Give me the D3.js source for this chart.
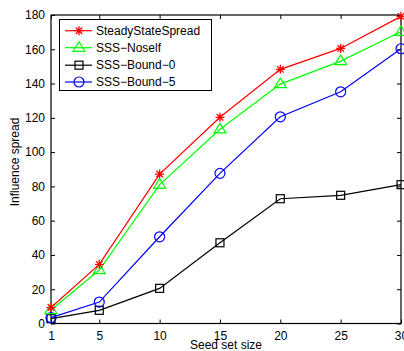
<!DOCTYPE html>
<html><head><meta charset="utf-8">
<script src="https://cdn.jsdelivr.net/npm/d3@7/dist/d3.min.js"></script>
<style>body{margin:0;background:#fff}svg{display:block}text{font-family:"Liberation Sans",Arial,sans-serif}</style>
</head><body>
<svg id="c" width="404" height="351"></svg>
<script>
const seedSizes = [1, 5, 10, 15, 20, 25, 30];
const steadyStateSpread = [9.3, 34.5, 87.2, 120.3, 148.3, 160.5, 179.2];
const sssNoself = [7.9, 31.2, 81, 113.3, 139.7, 153.1, 170.2];
const sssBound0 = [2.8, 7.7, 20.5, 47.1, 72.8, 74.8, 81];
const sssBound5 = [3.4, 12.5, 50.6, 87.6, 120.6, 135.2, 160.3];
const xTicks = [1, 5, 10, 15, 20, 25, 30];
const yTicks = [0, 20, 40, 60, 80, 100, 120, 140, 160, 180];
const seriesNames = ["SteadyStateSpread", "SSS\u2212Noself", "SSS\u2212Bound\u22120", "SSS\u2212Bound\u22125"];

const series = [
  {name: seriesNames[0], values: steadyStateSpread, color: "#ff0000", marker: "star"},
  {name: seriesNames[1], values: sssNoself, color: "#00ff00", marker: "triangle"},
  {name: seriesNames[2], values: sssBound0, color: "#000000", marker: "square"},
  {name: seriesNames[3], values: sssBound5, color: "#0000ff", marker: "circle"}
];

const L = 51, R = 401, T = 15, B = 323.5;
const svg = d3.select("#c");
const x = d3.scaleLinear().domain([1, 30]).range([L, R]);
const y = d3.scaleLinear().domain([0, 180]).range([B, T]);

const fs = 12;
const gx = svg.append("g").attr("transform", `translate(0,${B})`)
  .call(d3.axisBottom(x).tickValues(xTicks).tickSize(-4).tickPadding(8));
const gxt = svg.append("g").attr("transform", `translate(0,${T})`)
  .call(d3.axisTop(x).tickValues(xTicks).tickSize(-4).tickFormat(""));
const gy = svg.append("g").attr("transform", `translate(${L},0)`)
  .call(d3.axisLeft(y).tickValues(yTicks).tickSize(-4).tickPadding(6));
const gyr = svg.append("g").attr("transform", `translate(${R},0)`)
  .call(d3.axisRight(y).tickValues(yTicks).tickSize(-4).tickFormat(""));
[gx, gxt, gy, gyr].forEach(g => {
  g.select(".domain").remove();
  g.selectAll("line").attr("stroke", "#000").attr("stroke-width", 1);
  g.selectAll("text").attr("font-size", fs).attr("fill", "#000")
    .attr("font-family", '"Liberation Sans",Arial,sans-serif');
});
gx.selectAll("text").attr("dy", "0.71em");

svg.append("rect").attr("x", L).attr("y", T).attr("width", R - L).attr("height", B - T)
  .attr("fill", "none").attr("stroke", "#000").attr("stroke-width", 1.2);

function drawMarker(g, type, cx, cy, color) {
  if (type === "star") {
    const r = 4.5;
    const p = [];
    [[r,0],[0,r],[r*0.72,r*0.72],[r*0.72,-r*0.72]].forEach(([dx,dy]) => {
      p.push(`M${cx-dx},${cy-dy}L${cx+dx},${cy+dy}`);
    });
    g.append("path").attr("d", p.join("")).attr("stroke", color).attr("stroke-width", 1.3).attr("fill", "none");
  } else if (type === "triangle") {
    const r = 6;
    g.append("path").attr("d", `M${cx},${cy-r}L${cx+r},${cy+r*0.6}L${cx-r},${cy+r*0.6}Z`)
      .attr("stroke", color).attr("stroke-width", 1.2).attr("fill", "none");
  } else if (type === "square") {
    const r = 4;
    g.append("rect").attr("x", cx-r).attr("y", cy-r).attr("width", 2*r).attr("height", 2*r)
      .attr("stroke", color).attr("stroke-width", 1.2).attr("fill", "none");
  } else {
    g.append("circle").attr("cx", cx).attr("cy", cy).attr("r", 5)
      .attr("stroke", color).attr("stroke-width", 1.2).attr("fill", "none");
  }
}

const line = d3.line().x((d, i) => x(seedSizes[i])).y(d => y(d));
const plot = svg.append("g");
[series[2], series[3], series[1], series[0]].forEach(s => {
  plot.append("path").attr("d", line(s.values)).attr("stroke", s.color)
    .attr("stroke-width", 1.2).attr("fill", "none");
  s.values.forEach((v, i) => drawMarker(plot, s.marker, x(seedSizes[i]), y(v), s.color));
});

const lg = svg.append("g");
lg.append("rect").attr("x", 59.5).attr("y", 19.5).attr("width", 152).attr("height", 71)
  .attr("fill", "#fff").attr("stroke", "#000").attr("stroke-width", 1);
const ly = [30.7, 47.7, 65.2, 82];
series.forEach((s, i) => {
  lg.append("line").attr("x1", 65).attr("x2", 92).attr("y1", ly[i]).attr("y2", ly[i])
    .attr("stroke", s.color).attr("stroke-width", 1.2);
  drawMarker(lg, s.marker, 79, ly[i], s.color);
  lg.append("text").attr("x", 96).attr("y", ly[i]).attr("dy", "0.35em")
    .attr("font-size", 12).attr("fill", "#000").text(s.name);
});

svg.append("text").attr("x", 226).attr("y", 349).attr("text-anchor", "middle")
  .attr("font-size", 12).text("Seed set size");
svg.append("text").attr("transform", "translate(19,162) rotate(-90)").attr("text-anchor", "middle")
  .attr("font-size", 12).text("Influence spread");
</script>
</body></html>
